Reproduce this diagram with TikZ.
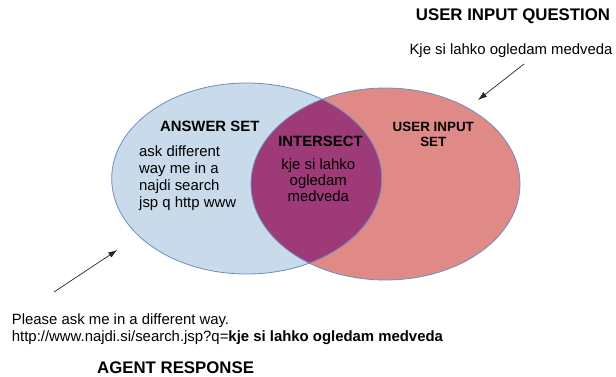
\documentclass[tikz,border=0pt]{standalone}
\usepackage{fontspec}
\setmainfont{Liberation Sans}
\usetikzlibrary{arrows.meta,positioning}

\definecolor{answerblue}{HTML}{C9DAEB}
\definecolor{userred}{HTML}{E08A87}
\definecolor{overlap}{HTML}{9E3A77}
\definecolor{rim}{HTML}{6F8CC2}

\begin{document}
\begin{tikzpicture}[x=1pt,y=1pt,
    plain/.style={inner sep=0pt, font=\fontsize{14.9}{17}\selectfont},
    heading/.style={inner sep=0pt, font=\fontsize{16.8}{20}\selectfont\bfseries},
    setname/.style={inner sep=0pt, font=\fontsize{14.9}{17}\selectfont\bfseries},
    pointer/.style={-{Latex[length=9pt,width=6pt]}, line width=0.7pt, black!85}]
    \useasboundingbox (0,0) rectangle (616,376);

    % the two sets
    \coordinate (answerc) at (246.7,197.5);
    \coordinate (userc) at (385.5,192);
    \fill[answerblue] (answerc) ellipse [x radius=135, y radius=95.5];
    \fill[userred] (userc) ellipse [x radius=134.5, y radius=96];
    \begin{scope}
        \clip (answerc) ellipse [x radius=135, y radius=95.5];
        \fill[overlap] (userc) ellipse [x radius=134.5, y radius=96];
    \end{scope}
    \draw[rim, line width=0.8pt] (answerc) ellipse [x radius=135, y radius=95.5];
    \draw[rim, line width=0.8pt] (userc) ellipse [x radius=134.5, y radius=96];

    % labels inside the sets
    \node[setname] (answer) at (209.7,249.3) {ANSWER SET};
    \node[plain, align=left, anchor=west] (answerwords) at (139,198.25) {ask different\\way me in a\\najdi search\\jsp q http www};
    \node[setname] (intersect) at (320.5,234.3) {INTERSECT};
    \node[plain, align=center, font=\fontsize{14.9}{16.2}\selectfont] (commonwords) at (318.3,195.6) {kje si lahko\\ogledam\\medveda};
    \node[setname, align=center, font=\fontsize{13.4}{15.6}\selectfont\bfseries] (userset) at (433.3,241.5) {USER INPUT\\SET};

    % question
    \node[heading] (question) at (513,359.3) {USER INPUT QUESTION};
    \node[plain] (questiontext) at (511,325.3) {Kje si lahko ogledam medveda};
    \coordinate (qtail) at (524,312);
    \coordinate (qtip) at (478,276);
    \draw[pointer] (qtail) -- (qtip);

    % response
    \node[plain, align=left, anchor=west] (response) at (11.7,46.6) {Please ask me in a different way.\\http://www.najdi.si/search.jsp?q=\textbf{kje si lahko ogledam medveda}};
    \node[heading, anchor=west] (agent) at (97,8) {AGENT RESPONSE};
    \coordinate (rtail) at (54,84);
    \coordinate (rtip) at (117.3,126);
    \draw[pointer] (rtail) -- (rtip);
\end{tikzpicture}
\end{document}
